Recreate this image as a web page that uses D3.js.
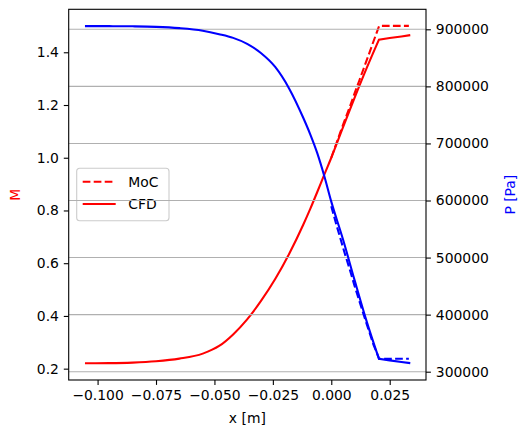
<!DOCTYPE html>
<html>
<head>
<meta charset="utf-8">
<script src="https://cdn.jsdelivr.net/npm/d3@7"></script>
<style>
  body { margin: 0; background: #fff; }
  svg { font-family: "DejaVu Sans", sans-serif; }
</style>
</head>
<body>
<div id="chart"></div>
<script>
'use strict';

// CFD samples along the nozzle axis
const cfdX = [-0.1054, -0.095, -0.085, -0.075, -0.065, -0.055, -0.048, -0.042, -0.036, -0.030,
  -0.024, -0.018, -0.012, -0.009, -0.006, -0.003, 0.0, 0.005, 0.010, 0.015, 0.0204, 0.025, 0.030, 0.0338];
const cfdM = [0.2205, 0.221, 0.223, 0.228, 0.238, 0.257, 0.286, 0.330, 0.387, 0.458,
  0.540, 0.636, 0.746, 0.806, 0.870, 0.936, 1.0, 1.115, 1.228, 1.337, 1.448, 1.454, 1.460, 1.465];
const cfdP = [905600, 905500, 905200, 904300, 902000, 897500, 891500, 885000, 874500, 858000,
  834000, 796000, 745000, 716000, 683000, 643000, 598000, 532000, 460000, 390000, 322500, 319800, 317000, 315000];
// index of the nozzle exit corner in the CFD samples
const cfdCorner = 20;

// method of characteristics, diverging part only
const mocX = [0.0, 0.002, 0.004, 0.006, 0.008, 0.010, 0.012, 0.014, 0.016, 0.018, 0.0205, 0.025, 0.030, 0.0332];
const mocM = [1.0, 1.05, 1.10, 1.148, 1.195, 1.245, 1.293, 1.342, 1.39, 1.44, 1.5, 1.5, 1.5, 1.5];
const mocP = [590000, 560000, 532000, 504000, 478000, 450000, 424000, 398000, 373000, 348000, 322500, 322500, 322700, 322800];

const xTicks = [-0.100, -0.075, -0.050, -0.025, 0.000, 0.025];
const mTicks = [0.2, 0.4, 0.6, 0.8, 1.0, 1.2, 1.4];
const pTicks = [300000, 400000, 500000, 600000, 700000, 800000, 900000];

const width = 519, height = 432;
const margin = { top: 9.3, left: 68.7, right: 93, bottom: 52 };
const plotW = width - margin.left - margin.right;
const plotH = height - margin.top - margin.bottom;
const fontSize = 13.9;
const lw = 2.08;
const dash = "7.7,3.3";

const svg = d3.select("#chart").append("svg")
  .attr("width", width)
  .attr("height", height);

const xScale = d3.scaleLinear().domain([-0.11236, 0.04053]).range([0, plotW]);
const mScale = d3.scaleLinear().domain([0.157, 1.563]).range([plotH, 0]);
const pScale = d3.scaleLinear().domain([285460, 935050]).range([plotH, 0]);

const chart = svg.append("g")
  .attr("transform", `translate(${margin.left}, ${margin.top})`);

const zip = (xs, ys) => xs.map((x, i) => ({ x: x, y: ys[i] }));

// smooth through the nozzle, straight after the exit corner
function cfdPath(yScale, ys) {
  const pts = zip(cfdX, ys);
  const smooth = d3.line().x(d => xScale(d.x)).y(d => yScale(d.y)).curve(d3.curveMonotoneX);
  const straight = d3.line().x(d => xScale(d.x)).y(d => yScale(d.y));
  return smooth(pts.slice(0, cfdCorner + 1)) + straight(pts.slice(cfdCorner)).replace(/^M/, "L");
}

function mocPath(yScale, ys) {
  return d3.line().x(d => xScale(d.x)).y(d => yScale(d.y))(zip(mocX, ys));
}

// first axes: Mach number (red)
chart.append("path")
  .attr("d", mocPath(mScale, mocM))
  .attr("fill", "none")
  .attr("stroke", "red")
  .attr("stroke-width", lw)
  .attr("stroke-dasharray", dash);

chart.append("path")
  .attr("d", cfdPath(mScale, cfdM))
  .attr("fill", "none")
  .attr("stroke", "red")
  .attr("stroke-width", lw);

// legend belongs to the first axes
const legend = chart.append("g")
  .attr("transform", `translate(${76.7 - margin.left}, ${168.3 - margin.top})`);
legend.append("rect")
  .attr("width", 92.3)
  .attr("height", 52.4)
  .attr("rx", 3)
  .attr("fill", "white")
  .attr("fill-opacity", 0.8)
  .attr("stroke", "#cccccc")
  .attr("stroke-width", 1.1);
const legendItems = [
  { label: "MoC", dash: dash },
  { label: "CFD", dash: null }
];
legendItems.forEach(function (item, i) {
  const y = 13.4 + i * 22.3;
  legend.append("line")
    .attr("x1", 6).attr("x2", 39)
    .attr("y1", y).attr("y2", y)
    .attr("stroke", "red")
    .attr("stroke-width", lw)
    .attr("stroke-dasharray", item.dash);
  legend.append("text")
    .attr("x", 51.6)
    .attr("y", y)
    .attr("dy", "0.36em")
    .attr("font-size", fontSize)
    .text(item.label);
});

// second axes: pressure (blue) with horizontal grid
chart.append("g")
  .selectAll("line")
  .data(pTicks)
  .enter().append("line")
  .attr("x1", 0).attr("x2", plotW)
  .attr("y1", d => pScale(d)).attr("y2", d => pScale(d))
  .attr("stroke", "#b0b0b0")
  .attr("stroke-width", 1.1);

chart.append("path")
  .attr("d", mocPath(pScale, mocP))
  .attr("fill", "none")
  .attr("stroke", "blue")
  .attr("stroke-width", lw)
  .attr("stroke-dasharray", dash);

chart.append("path")
  .attr("d", cfdPath(pScale, cfdP))
  .attr("fill", "none")
  .attr("stroke", "blue")
  .attr("stroke-width", lw);

// axes
function styleAxis(g) {
  g.selectAll(".domain").remove();
  g.selectAll(".tick line").attr("stroke", "black").attr("stroke-width", 1.1);
  g.selectAll(".tick text").attr("font-size", fontSize).attr("fill", "black")
    .attr("font-family", "DejaVu Sans, sans-serif");
}

chart.append("g")
  .attr("transform", `translate(0, ${plotH})`)
  .call(d3.axisBottom(xScale).tickValues(xTicks).tickFormat(d3.format(".3f"))
    .tickSize(4.9).tickPadding(4.9))
  .call(styleAxis);

chart.append("g")
  .call(d3.axisLeft(mScale).tickValues(mTicks).tickFormat(d3.format(".1f"))
    .tickSize(4.9).tickPadding(4.9))
  .call(styleAxis);

chart.append("g")
  .attr("transform", `translate(${plotW}, 0)`)
  .call(d3.axisRight(pScale).tickValues(pTicks).tickFormat(d3.format("d"))
    .tickSize(4.9).tickPadding(4.9))
  .call(styleAxis);

chart.append("rect")
  .attr("width", plotW)
  .attr("height", plotH)
  .attr("fill", "none")
  .attr("stroke", "black")
  .attr("stroke-width", 1.1);

// axis labels
svg.append("text")
  .attr("x", margin.left + plotW / 2)
  .attr("y", 423)
  .attr("text-anchor", "middle")
  .attr("font-size", fontSize)
  .text("x [m]");

svg.append("text")
  .attr("transform", `translate(20, ${margin.top + plotH / 2}) rotate(-90)`)
  .attr("text-anchor", "middle")
  .attr("font-size", fontSize)
  .attr("fill", "red")
  .text("M");

svg.append("text")
  .attr("transform", `translate(505, ${margin.top + plotH / 2}) rotate(-90)`)
  .attr("text-anchor", "middle")
  .attr("dy", "0.75em")
  .attr("font-size", fontSize)
  .attr("fill", "blue")
  .text("P [Pa]");
</script>
</body>
</html>
